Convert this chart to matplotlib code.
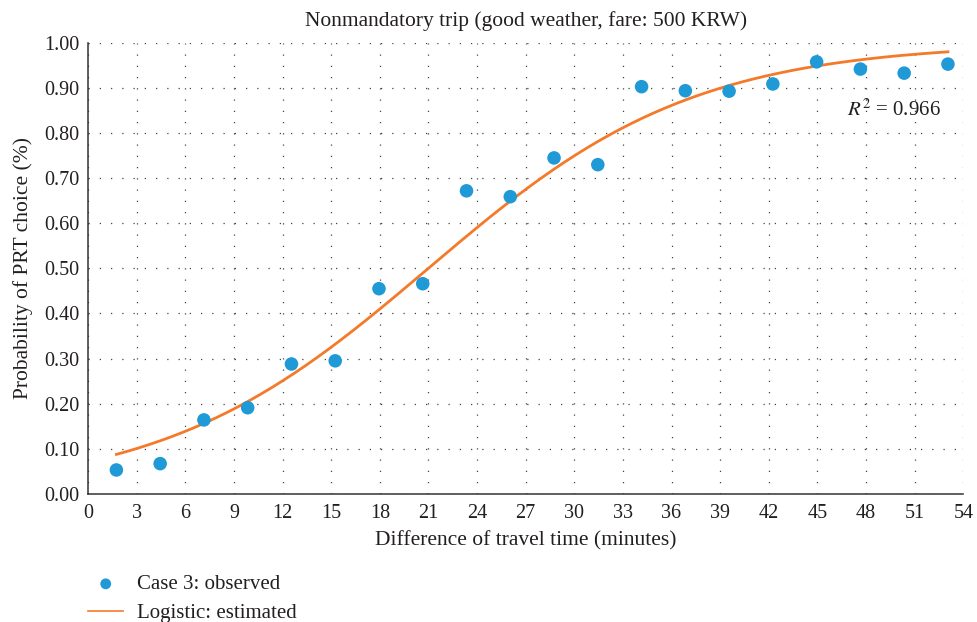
import numpy as np
import matplotlib
matplotlib.use("Agg")
import matplotlib.pyplot as plt

# ── Dados ──────────────────────────────────────────────
tempo_obs = [1.75, 4.45, 7.15, 9.85, 12.55, 15.25, 17.95, 20.65, 23.35, 26.05,
             28.75, 31.45, 34.15, 36.85, 39.55, 42.25, 44.95, 47.65, 50.35, 53.05]
prob_obs = [0.053, 0.067, 0.164, 0.191, 0.288, 0.295, 0.455, 0.466, 0.672, 0.659,
            0.745, 0.730, 0.903, 0.894, 0.893, 0.909, 0.958, 0.942, 0.933, 0.953]

# coeficientes do modelo logístico estimado
coef_a = -2.557
coef_b = 0.1218
r2 = 0.966

x_ticks = list(range(0, 55, 3))
y_ticks = [i / 10 for i in range(11)]

titulo = "Nonmandatory trip (good weather, fare: 500 KRW)"
rotulo_x = "Difference of travel time (minutes)"
rotulo_y = "Probability of PRT choice (%)"

AZUL = "#1f9ad6"
LARANJA = "#f47a2a"
TEXTO = "#231f20"

plt.rcParams["font.family"] = ["Liberation Serif", "DejaVu Serif"]
plt.rcParams["mathtext.fontset"] = "stix"
plt.rcParams["text.color"] = TEXTO
plt.rcParams["axes.labelcolor"] = TEXTO
plt.rcParams["xtick.color"] = TEXTO
plt.rcParams["ytick.color"] = TEXTO

fig = plt.figure(figsize=(9.78, 6.22), dpi=100)
ax = fig.add_axes([0.090, 0.206, 0.895, 0.725])

# curva logística
x_curva = np.linspace(tempo_obs[0], tempo_obs[-1], 300)
y_curva = 1.0 / (1.0 + np.exp(-(coef_a + coef_b * x_curva)))

ax.scatter(tempo_obs, prob_obs, s=95, color=AZUL, edgecolors="none", zorder=3,
           label="Case 3: observed")
ax.plot(x_curva, y_curva, color=LARANJA, lw=2, zorder=2,
        label="Logistic: estimated")

ax.set_xlim(0, 54)
ax.set_ylim(0, 1)
ax.set_xticks(x_ticks)
ax.set_yticks(y_ticks)
ax.set_yticklabels([f"{v:.2f}" for v in y_ticks])
ax.tick_params(length=0, labelsize=14.5)
ax.tick_params(axis="x", pad=7)
ax.tick_params(axis="y", pad=6)

ax.grid(True, color="#444444", lw=0.9, linestyle=(0, (1, 8)))
ax.set_axisbelow(True)
for lado in ["top", "right"]:
    ax.spines[lado].set_visible(False)
for lado in ["left", "bottom"]:
    ax.spines[lado].set_color("#333333")
    ax.spines[lado].set_linewidth(1.1)

ax.set_title(titulo, fontsize=15.5, pad=12)
ax.set_xlabel(rotulo_x, fontsize=15.5, labelpad=6)
ax.set_ylabel(rotulo_y, fontsize=15.5, labelpad=8)

ax.text(52.6, 0.85, f"$R^2$ = {r2:.3f}", ha="right", va="center", fontsize=15)

leg = fig.legend(loc="upper left", bbox_to_anchor=(0.090, 0.076), frameon=False,
                 fontsize=15, handlelength=1.7, handletextpad=0.65,
                 labelspacing=0.45, borderpad=0, borderaxespad=0, markerscale=0.8)
leg.legend_handles[1].set_linewidth(1.2)

fig.savefig("out.png", dpi=100)
